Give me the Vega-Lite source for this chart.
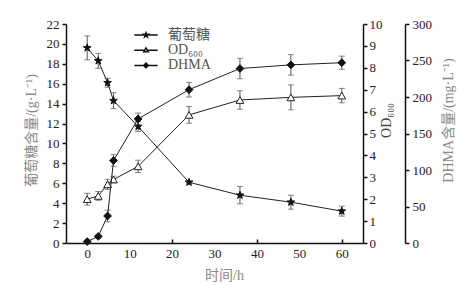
{
  "$schema": "https://vega.github.io/schema/vega-lite/v6.json",
  "width": 297,
  "height": 219,
  "autosize": {"type": "none"},
  "padding": {"left": 66, "top": 24, "right": 111, "bottom": 42},
  "background": "white",
  "config": {
    "view": {"stroke": null},
    "font": "Liberation Serif",
    "axis": {
      "grid": false,
      "domainColor": "#111",
      "domainWidth": 1.5,
      "tickColor": "#111",
      "tickWidth": 1.5,
      "labelFont": "Liberation Serif",
      "labelFontSize": 13,
      "labelColor": "#222",
      "titleFont": "Liberation Serif, Noto Sans CJK SC",
      "titleFontSize": 14,
      "titleFontWeight": "normal",
      "titleColor": "#888"
    }
  },
  "data": {
    "values": [
      {"t": 0, "series": "葡萄糖", "value": 19.6, "err": 1.2},
      {"t": 2.6, "series": "葡萄糖", "value": 18.3, "err": 0.75},
      {"t": 4.8, "series": "葡萄糖", "value": 16.1, "err": 0.45},
      {"t": 6.2, "series": "葡萄糖", "value": 14.3, "err": 0.8},
      {"t": 12, "series": "葡萄糖", "value": 11.7, "err": 0.5},
      {"t": 24, "series": "葡萄糖", "value": 6.1, "err": 0.1},
      {"t": 36, "series": "葡萄糖", "value": 4.8, "err": 0.87},
      {"t": 48, "series": "葡萄糖", "value": 4.1, "err": 0.7},
      {"t": 60, "series": "葡萄糖", "value": 3.2, "err": 0.5},
      {"t": 0, "series": "OD₆₀₀", "value": 2.0, "err": 0.27},
      {"t": 2.6, "series": "OD₆₀₀", "value": 2.15, "err": 0.2},
      {"t": 4.8, "series": "OD₆₀₀", "value": 2.68, "err": 0.23},
      {"t": 6.2, "series": "OD₆₀₀", "value": 2.9, "err": 0.15},
      {"t": 12, "series": "OD₆₀₀", "value": 3.5, "err": 0.28},
      {"t": 24, "series": "OD₆₀₀", "value": 5.85, "err": 0.38},
      {"t": 36, "series": "OD₆₀₀", "value": 6.53, "err": 0.42},
      {"t": 48, "series": "OD₆₀₀", "value": 6.65, "err": 0.57},
      {"t": 60, "series": "OD₆₀₀", "value": 6.73, "err": 0.33},
      {"t": 0, "series": "DHMA", "value": 2, "err": 0},
      {"t": 2.6, "series": "DHMA", "value": 9, "err": 2},
      {"t": 4.8, "series": "DHMA", "value": 37, "err": 8},
      {"t": 6.2, "series": "DHMA", "value": 113, "err": 8},
      {"t": 12, "series": "DHMA", "value": 170, "err": 8},
      {"t": 24, "series": "DHMA", "value": 210, "err": 10},
      {"t": 36, "series": "DHMA", "value": 239, "err": 14},
      {"t": 48, "series": "DHMA", "value": 244, "err": 14},
      {"t": 60, "series": "DHMA", "value": 247, "err": 9}
    ]
  },
  "encoding": {
    "x": {
      "field": "t",
      "type": "quantitative",
      "scale": {"domain": [-5, 65], "nice": false, "zero": false},
      "axis": {
        "values": [0, 10, 20, 30, 40, 50, 60],
        "title": "时间/h",
        "titleX": 158,
        "tickSize": -4,
        "labelPadding": 8,
        "titlePadding": 8,
        "tickOpacity": {"condition": {"test": "datum.value % 20 === 0", "value": 1}, "value": 0}
      }
    }
  },
  "layer": [
    {
      "transform": [{"filter": "datum.series === '葡萄糖'"}],
      "encoding": {
        "y": {
          "field": "value",
          "type": "quantitative",
          "scale": {"domain": [0, 22], "nice": false},
          "axis": {
            "orient": "left",
            "values": [0, 2, 4, 6, 8, 10, 12, 14, 16, 18, 20, 22],
            "title": "葡萄糖含量/(g·L⁻¹)",
            "titleY": 106,
            "tickSize": 4,
            "labelPadding": 3,
            "titlePadding": 8
          }
        }
      },
      "layer": [
        {"mark": {"type": "line", "color": "#222", "strokeWidth": 1}},
        {
          "mark": {"type": "errorbar", "color": "#555", "thickness": 1, "ticks": {"size": 6, "color": "#555"}},
          "encoding": {"yError": {"field": "err"}}
        },
        {
          "mark": {"type": "point", "shape": "M0,-1L0.235,-0.324L0.951,-0.309L0.38,0.124L0.588,0.809L0,0.4L-0.588,0.809L-0.38,0.124L-0.951,-0.309L-0.235,-0.324Z", "filled": true, "fill": "#111", "stroke": "#111", "strokeWidth": 1, "opacity": 1, "size": 64}
        }
      ]
    },
    {
      "transform": [{"filter": "datum.series === 'OD₆₀₀'"}],
      "encoding": {
        "y": {
          "field": "value",
          "type": "quantitative",
          "scale": {"domain": [0, 10], "nice": false},
          "axis": {
            "orient": "right",
            "values": [0, 1, 2, 3, 4, 5, 6, 7, 8, 9, 10],
            "title": "OD₆₀₀",
            "titleColor": "#444",
            "titleAngle": 270,
            "titleY": 96,
            "tickSize": 4,
            "labelPadding": 2,
            "titlePadding": 11
          }
        }
      },
      "layer": [
        {"mark": {"type": "line", "color": "#222", "strokeWidth": 1}},
        {
          "mark": {"type": "errorbar", "color": "#555", "thickness": 1, "ticks": {"size": 6, "color": "#555"}},
          "encoding": {"yError": {"field": "err"}}
        },
        {
          "mark": {"type": "point", "shape": "triangle-up", "filled": true, "fill": "white", "stroke": "#222", "strokeWidth": 1, "opacity": 1, "size": 60}
        }
      ]
    },
    {
      "transform": [{"filter": "datum.series === 'DHMA'"}],
      "encoding": {
        "y": {
          "field": "value",
          "type": "quantitative",
          "scale": {"domain": [0, 300], "nice": false},
          "axis": {
            "orient": "right",
            "offset": 42,
            "values": [0, 50, 100, 150, 200, 250, 300],
            "title": "DHMA含量/(mg·L⁻¹)",
            "titleAngle": 270,
            "titleY": 96,
            "tickSize": 4,
            "labelPadding": 3,
            "titlePadding": 24
          }
        }
      },
      "layer": [
        {"mark": {"type": "line", "color": "#222", "strokeWidth": 1}},
        {
          "mark": {"type": "errorbar", "color": "#555", "thickness": 1, "ticks": {"size": 6, "color": "#555"}},
          "encoding": {"yError": {"field": "err"}}
        },
        {
          "mark": {"type": "point", "shape": "diamond", "filled": true, "fill": "#111", "stroke": "#111", "strokeWidth": 1, "opacity": 1, "size": 60}
        }
      ]
    },
    {
      "transform": [{"filter": "false"}],
      "mark": {"type": "point", "filled": true, "stroke": "#111", "strokeWidth": 1, "opacity": 1},
      "encoding": {
        "shape": {
          "field": "series", "type": "nominal",
          "scale": {
            "domain": ["葡萄糖", "OD₆₀₀", "DHMA"],
            "range": [
              "M-3.9,0L-0.7,0M0.7,0L3.9,0M0,-0.75L0.176,-0.243L0.713,-0.232L0.285,0.093L0.441,0.607L0,0.3L-0.441,0.607L-0.285,0.093L-0.713,-0.232L-0.176,-0.243Z",
              "M-3.9,0L-0.55,0M0.55,0L3.9,0M0,-0.75L0.75,0.55L-0.75,0.55Z",
              "M-3.9,0L3.9,0M0,-0.8L0.8,0L0,0.8L-0.8,0Z"
            ]
          },
          "legend": {
            "title": null,
            "orient": "none",
            "legendX": 73,
            "legendY": 4,
            "symbolSize": 36,
            "labelFont": "Liberation Serif, Noto Sans CJK SC",
            "labelFontSize": 14,
            "labelColor": "#555",
            "labelOffset": 15,
            "rowPadding": 1.2,
            "padding": 0
          }
        },
        "fill": {
          "field": "series", "type": "nominal",
          "scale": {"domain": ["葡萄糖", "OD₆₀₀", "DHMA"], "range": ["#111", "white", "#111"]},
          "legend": {
            "title": null,
            "orient": "none",
            "legendX": 73,
            "legendY": 4,
            "symbolSize": 36,
            "labelFont": "Liberation Serif, Noto Sans CJK SC",
            "labelFontSize": 14,
            "labelColor": "#555",
            "labelOffset": 15,
            "rowPadding": 1.2,
            "padding": 0
          }
        }
      }
    }
  ],
  "resolve": {"scale": {"y": "independent"}}
}
